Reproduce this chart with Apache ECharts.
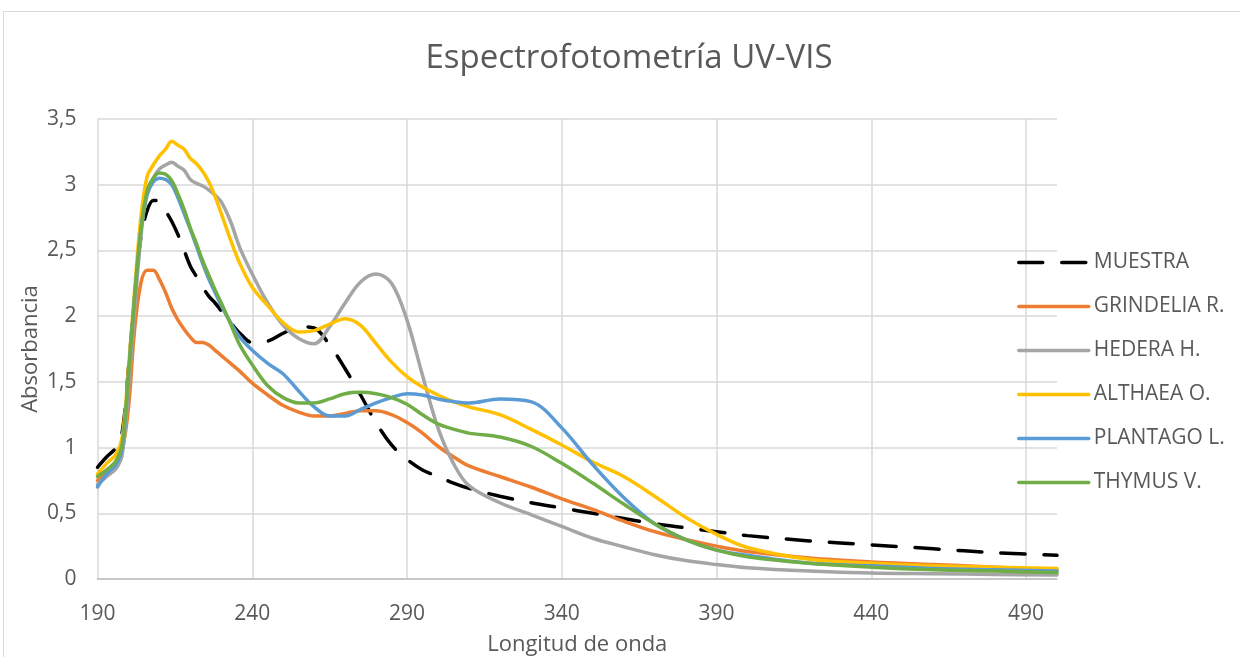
<!DOCTYPE html>
<html>
<head>
<meta charset="utf-8">
<title>Espectrofotometría UV-VIS</title>
<script src="https://cdn.jsdelivr.net/npm/echarts@6/dist/echarts.min.js"></script>
<style>
  html, body { margin: 0; padding: 0; background: #fff; }
  #chart { width: 1240px; height: 657px; }
</style>
</head>
<body>
<div id="chart"></div>
<script>
// longitud de onda (nm)
const wavelengths = [190, 193, 196, 198, 200, 202, 204, 206, 208, 210, 212, 214, 216, 218, 220, 222, 224, 226, 228, 230,
  233, 236, 240, 245, 250, 255, 260, 265, 270, 275, 280, 285, 290, 295, 300, 305, 310, 320, 330, 340,
  350, 360, 370, 380, 390, 400, 420, 440, 460, 480, 500]

// absorbancias
const muestra = [0.85, 0.93, 1.00, 1.12, 1.60, 2.15, 2.60, 2.80, 2.88, 2.87, 2.80, 2.72, 2.62, 2.50, 2.38, 2.30, 2.22, 2.15, 2.10, 2.04,
  1.95, 1.87, 1.80, 1.81, 1.87, 1.92, 1.91, 1.78, 1.60, 1.40, 1.19, 1.02, 0.91, 0.83, 0.78, 0.73, 0.69, 0.63, 0.58, 0.54,
  0.50, 0.46, 0.42, 0.39, 0.36, 0.33, 0.29, 0.26, 0.23, 0.20, 0.18]
const grindelia = [0.75, 0.82, 0.88, 0.98, 1.30, 1.90, 2.25, 2.35, 2.35, 2.28, 2.18, 2.06, 1.97, 1.90, 1.84, 1.80, 1.80, 1.78, 1.74, 1.70,
  1.64, 1.58, 1.49, 1.40, 1.32, 1.27, 1.24, 1.24, 1.26, 1.28, 1.28, 1.25, 1.19, 1.11, 1.01, 0.93, 0.86, 0.78, 0.70, 0.61,
  0.53, 0.44, 0.36, 0.30, 0.25, 0.21, 0.16, 0.13, 0.11, 0.09, 0.07]
const hedera = [0.72, 0.78, 0.84, 0.95, 1.45, 2.05, 2.60, 2.95, 3.05, 3.12, 3.15, 3.17, 3.14, 3.11, 3.04, 3.01, 2.99, 2.96, 2.92, 2.87,
  2.72, 2.52, 2.32, 2.10, 1.93, 1.83, 1.79, 1.92, 2.10, 2.26, 2.32, 2.25, 1.97, 1.55, 1.15, 0.88, 0.71, 0.58, 0.49, 0.40,
  0.31, 0.245, 0.185, 0.14, 0.11, 0.085, 0.06, 0.045, 0.04, 0.035, 0.03]
const althaea = [0.80, 0.88, 0.95, 1.08, 1.60, 2.20, 2.75, 3.06, 3.15, 3.22, 3.27, 3.33, 3.30, 3.27, 3.20, 3.16, 3.10, 3.02, 2.91, 2.78,
  2.58, 2.40, 2.22, 2.08, 1.95, 1.88, 1.89, 1.94, 1.98, 1.93, 1.79, 1.65, 1.54, 1.46, 1.40, 1.35, 1.31, 1.25, 1.14, 1.02,
  0.89, 0.78, 0.63, 0.47, 0.34, 0.24, 0.15, 0.12, 0.10, 0.09, 0.08]
const plantago = [0.70, 0.80, 0.87, 1.00, 1.55, 2.15, 2.65, 2.92, 3.02, 3.05, 3.04, 3.00, 2.90, 2.78, 2.66, 2.53, 2.40, 2.28, 2.18, 2.08,
  1.95, 1.84, 1.74, 1.64, 1.56, 1.43, 1.31, 1.24, 1.24, 1.29, 1.34, 1.38, 1.41, 1.40, 1.37, 1.35, 1.34, 1.37, 1.35, 1.15,
  0.87, 0.62, 0.42, 0.30, 0.22, 0.18, 0.12, 0.10, 0.08, 0.07, 0.06]
const thymus = [0.78, 0.83, 0.90, 1.03, 1.55, 2.15, 2.65, 2.95, 3.05, 3.09, 3.08, 3.03, 2.93, 2.81, 2.67, 2.55, 2.42, 2.31, 2.20, 2.10,
  1.94, 1.78, 1.63, 1.47, 1.38, 1.34, 1.34, 1.37, 1.41, 1.42, 1.41, 1.38, 1.33, 1.25, 1.18, 1.14, 1.11, 1.08, 1.01, 0.88,
  0.73, 0.57, 0.42, 0.30, 0.22, 0.17, 0.12, 0.09, 0.07, 0.06, 0.05]

const seriesNames = ['MUESTRA', 'GRINDELIA R.', 'HEDERA H.', 'ALTHAEA O.', 'PLANTAGO L.', 'THYMUS V.']
const seriesValues = [muestra, grindelia, hedera, althaea, plantago, thymus]
const seriesColors = ['#000000', '#ED7D31', '#A5A5A5', '#FFC000', '#5B9BD5', '#70AD47']

const FONT = '"Open Sans", "Noto Sans", sans-serif'
const TEXT = '#595959'

const chart = echarts.init(document.getElementById('chart'), null, { renderer: 'canvas' })

const series = seriesNames.map((name, i) => ({
  name,
  type: 'line',
  data: wavelengths.map((w, j) => [w, seriesValues[i][j]]),
  smooth: 0.35,
  symbol: 'none',
  color: seriesColors[i],
  lineStyle: {
    color: seriesColors[i],
    width: 3.5,
    type: i === 0 ? [24, 19] : 'solid',
    cap: 'round'
  },
  emphasis: { disabled: true }
}))

chart.setOption({
  animation: false,
  backgroundColor: '#fff',
  graphic: [{
    type: 'rect',
    shape: { x: 3.5, y: 11.5, width: 1400, height: 800 },
    style: { fill: 'none', stroke: '#d9d9d9', lineWidth: 1 },
    silent: true
  }],
  title: {
    text: 'Espectrofotometría UV-VIS',
    left: 624,
    textAlign: 'center',
    top: 37,
    textStyle: { fontFamily: FONT, fontSize: 33, fontWeight: 'normal', color: TEXT }
  },
  legend: {
    orient: 'vertical',
    left: 1017,
    top: 252,
    padding: 0,
    itemWidth: 70,
    itemHeight: 22,
    itemGap: 23,
    itemStyle: { opacity: 0 },
    lineStyle: { width: 3.5 },
    textStyle: { fontFamily: FONT, fontSize: 21, color: TEXT },
    data: seriesNames
  },
  grid: { left: 97.5, top: 119, right: 183, bottom: 78, containLabel: false, outerBoundsMode: 'none' },
  xAxis: {
    type: 'value',
    min: 190,
    max: 500,
    interval: 50,
    name: 'Longitud de onda',
    nameLocation: 'middle',
    nameGap: 55,
    nameMoveOverlap: false,
    nameTextStyle: { fontFamily: FONT, fontSize: 22, color: TEXT },
    axisLine: { show: true, lineStyle: { color: '#bfbfbf', width: 1.5 } },
    axisTick: { show: false },
    axisLabel: { fontFamily: FONT, fontSize: 21, color: TEXT, margin: 25, showMaxLabel: false },
    splitLine: { show: true, showMaxLine: false, lineStyle: { color: '#d9d9d9', width: 1.5 } }
  },
  yAxis: {
    type: 'value',
    min: 0,
    max: 3.5,
    interval: 0.5,
    name: 'Absorbancia',
    nameLocation: 'middle',
    nameGap: 56,
    nameMoveOverlap: false,
    nameTextStyle: { fontFamily: FONT, fontSize: 22, color: TEXT },
    axisLine: { show: false },
    axisTick: { show: false },
    axisLabel: {
      fontFamily: FONT, fontSize: 21, color: TEXT, margin: 21,
      formatter: v => String(v).replace('.', ',')
    },
    splitLine: { show: true, lineStyle: { color: '#d9d9d9', width: 1.5 } }
  },
  series
})
</script>
</body>
</html>
